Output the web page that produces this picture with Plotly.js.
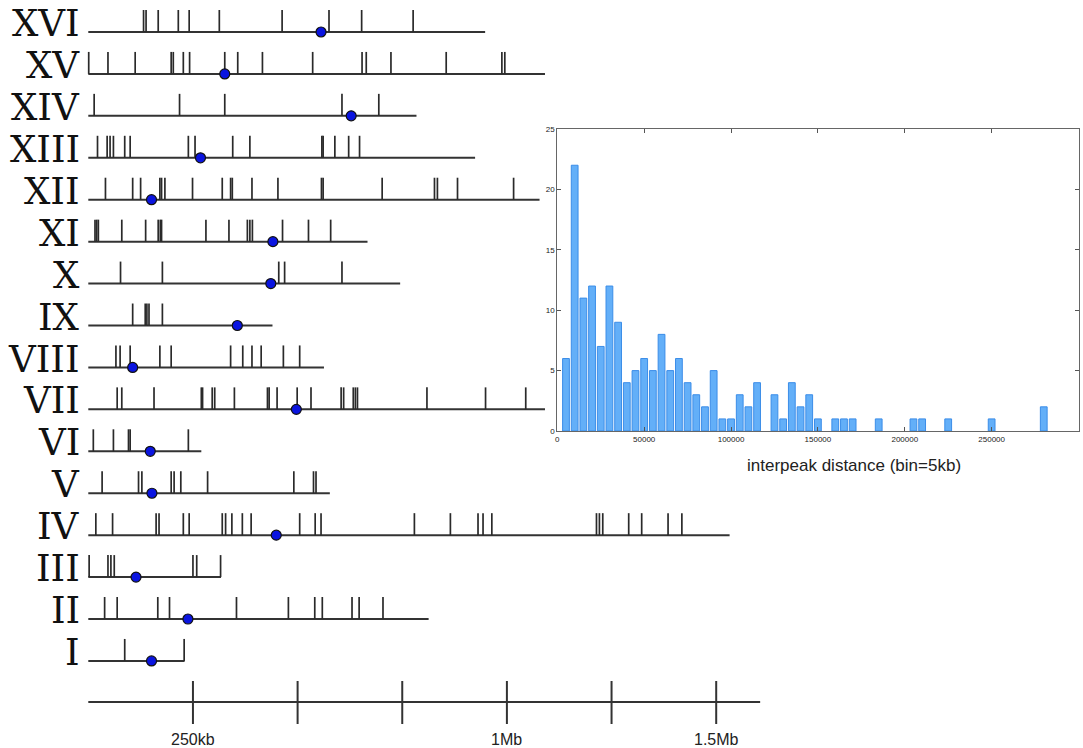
<!DOCTYPE html>
<html>
<head>
<meta charset="utf-8">
<script src="https://cdn.plot.ly/plotly-3.0.1.min.js"></script>
<style>html,body{margin:0;padding:0;background:#fff;}#chart{width:1083px;height:748px;}</style>
</head>
<body>
<div id="chart"></div>
<script>
// ---------------- data ----------------
const chromNames = ['I','II','III','IV','V','VI','VII','VIII','IX','X','XI','XII','XIII','XIV','XV','XVI'];
const chromLengthKb = [230, 813, 317, 1532, 577, 270, 1091, 563, 440, 745, 667, 1078, 924, 784, 1091, 948];
const centromereKb = [151, 238, 114, 449, 152, 148, 497, 106, 356, 436, 441, 151, 268, 628, 326, 556];

const peaksI = [87, 229];
const peaksII = [39, 69, 166, 194, 354, 478, 541, 559, 630, 647, 704];
const peaksIII = [2, 47, 54, 62, 250, 259, 316];
const peaksIV = [18, 58, 162, 169, 227, 241, 320, 328, 343, 368, 389, 505, 542, 556, 779, 865, 931, 943, 964, 1214, 1221, 1229, 1291, 1322, 1385, 1418];
const peaksV = [33, 120, 128, 198, 205, 221, 285, 491, 538, 544];
const peaksVI = [12, 60, 96, 100, 239];
const peaksVII = [69, 80, 157, 270, 273, 296, 302, 349, 428, 432, 451, 499, 532, 604, 610, 633, 638, 643, 809, 949, 1045];
const peaksVIII = [66, 76, 100, 171, 198, 340, 369, 391, 413, 466, 505];
const peaksIX = [106, 136, 140, 145, 177];
const peaksX = [77, 177, 455, 469, 606];
const peaksXI = [16, 20, 24, 80, 137, 167, 172, 175, 281, 336, 380, 386, 392, 464, 526, 579];
const peaksXII = [41, 106, 125, 171, 175, 183, 249, 320, 340, 344, 391, 453, 557, 561, 702, 827, 834, 882, 1016];
const peaksXIII = [22, 45, 52, 60, 87, 100, 239, 255, 345, 386, 558, 561, 589, 622, 648];
const peaksXIV = [14, 218, 326, 606, 694];
const peaksXV = [1, 47, 112, 198, 203, 227, 242, 326, 357, 416, 536, 654, 664, 723, 855, 988, 995];
const peaksXVI = [132, 138, 167, 215, 241, 313, 463, 575, 653, 776];

const scaleTickKb = [250, 500, 750, 1000, 1250, 1500];
const scaleLabelKb = [250, 1000, 1500];
const scaleLabels = ['250kb', '1Mb', '1.5Mb'];
const scaleBarLengthKb = 1605;

const interpeakBins = [5000,10000,15000,20000,25000,30000,35000,40000,45000,50000,55000,60000,65000,70000,75000,80000,85000,90000,95000,100000,105000,110000,115000,125000,130000,135000,140000,145000,150000,160000,165000,170000,185000,205000,210000,225000,250000,280000];
const interpeakCounts = [6,22,11,12,7,12,9,4,5,6,5,8,5,6,4,3,2,5,1,1,3,2,4,3,1,4,2,3,1,1,1,1,1,1,1,1,1,2];
const histTicks = [0, 50000, 100000, 150000, 200000, 250000, 300000];
const histTitle = 'interpeak distance (bin=5kb)';

// ---------------- layout helpers ----------------
const W = 1083, H = 748;
const PX_PER_KB = 0.4186, X0_PX = 88.3;
const ROW0_PX = 32, ROW_GAP = 41.93;
const pxToRow = p => (p - ROW0_PX) / ROW_GAP;
const TICK_H = 22 / ROW_GAP;
const allPeaks = [peaksI, peaksII, peaksIII, peaksIV, peaksV, peaksVI, peaksVII, peaksVIII,
                  peaksIX, peaksX, peaksXI, peaksXII, peaksXIII, peaksXIV, peaksXV, peaksXVI];
const rowOf = i => (chromNames.length - 1 - i); // XVI on top

const lx = [], ly = [], tx = [], ty = [], cx = [], cy = [];
chromNames.forEach((n, i) => {
  const r = rowOf(i);
  lx.push(0, chromLengthKb[i], null); ly.push(r, r, null);
  allPeaks[i].forEach(p => { tx.push(p, p, null); ty.push(r, r - TICK_H, null); });
  cx.push(centromereKb[i]); cy.push(r);
});
const SCALE_ROW = pxToRow(702);
const sx = [0, scaleBarLengthKb, null], sy = [SCALE_ROW, SCALE_ROW, null];
scaleTickKb.forEach(k => { sx.push(k, k, null); sy.push(SCALE_ROW - 21/ROW_GAP, SCALE_ROW + 22/ROW_GAP, null); });

const traces = [
  {type:'scatter', mode:'lines', x: lx, y: ly, line:{color:'#333', width:2}, hoverinfo:'skip', showlegend:false},
  {type:'scatter', mode:'lines', x: tx, y: ty, line:{color:'#2a2a2a', width:1.7}, hoverinfo:'skip', showlegend:false},
  {type:'scatter', mode:'lines', x: sx, y: sy, line:{color:'#333', width:2}, hoverinfo:'skip', showlegend:false},
  {type:'scatter', mode:'markers', x: cx, y: cy, marker:{size:10, color:'#0a14e0', line:{color:'#111', width:1.2}}, hoverinfo:'skip', showlegend:false},
  {type:'bar', x: interpeakBins, y: interpeakCounts, xaxis:'x2', yaxis:'y2', width: 3900,
   marker:{color:'#63aff8', line:{color:'#3b8de8', width:1}}, hoverinfo:'skip', showlegend:false}
];

const annotations = [];
chromNames.forEach((n, i) => {
  annotations.push({xref:'x', yref:'y', x: -14, y: rowOf(i) - 0.2, text: n, showarrow:false,
    xanchor:'right', yanchor:'middle', font:{family:'DejaVu Serif, Liberation Serif, serif', size:37, color:'#111'}});
});
scaleLabelKb.forEach((k, j) => {
  annotations.push({xref:'x', yref:'y', x: k, y: pxToRow(739), text: scaleLabels[j], showarrow:false,
    xanchor:'center', yanchor:'middle', font:{family:'Liberation Sans, Arial, sans-serif', size:16, color:'#222'}});
});
annotations.push({xref:'paper', yref:'paper', x: 854 / W, y: 1 - 465 / H, text: histTitle, showarrow:false,
  xanchor:'center', yanchor:'middle', font:{family:'Liberation Sans, Arial, sans-serif', size:17, color:'#222'}});

const layout = {
  width: W, height: H,
  margin: {l:0, r:0, t:0, b:0, pad:0},
  paper_bgcolor:'#fff', plot_bgcolor:'rgba(0,0,0,0)',
  showlegend:false, hovermode:false,
  xaxis: {domain:[0,1], range:[-X0_PX/PX_PER_KB, (W - X0_PX)/PX_PER_KB], visible:false, fixedrange:true},
  yaxis: {domain:[0,1], range:[pxToRow(H), pxToRow(0)], visible:false, fixedrange:true},
  xaxis2: {domain:[557.3/W, 1078.5/W], anchor:'y2', range:[0, 300000], tickvals: histTicks,
    tickformat:'d', ticks:'inside', ticklen:4, tickcolor:'#555', showline:true, linecolor:'#666', linewidth:1,
    mirror:'ticks', showgrid:false, zeroline:false,
    tickfont:{family:'Liberation Sans, Arial, sans-serif', size:8, color:'#222'}},
  yaxis2: {domain:[1 - 431/H, 1 - 129/H], anchor:'x2', range:[0, 25], dtick:5,
    ticks:'inside', ticklen:4, tickcolor:'#555', showline:true, linecolor:'#666', linewidth:1,
    mirror:'ticks', showgrid:false, zeroline:false,
    tickfont:{family:'Liberation Sans, Arial, sans-serif', size:8, color:'#222'}},
  annotations: annotations
};

Plotly.newPlot('chart', traces, layout, {staticPlot:true, displayModeBar:false});
</script>
</body>
</html>
